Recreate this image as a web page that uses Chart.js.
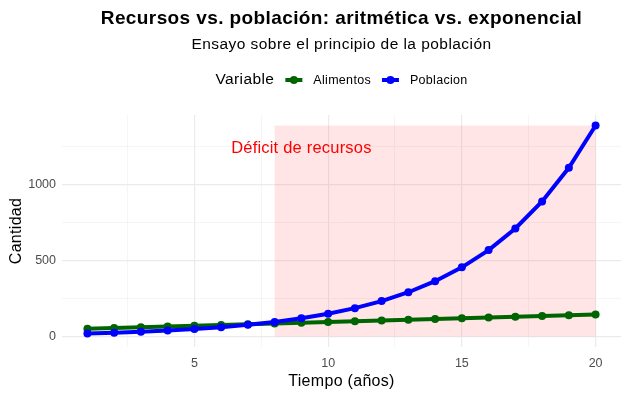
<!DOCTYPE html>
<html>
<head>
<meta charset="utf-8">
<script src="https://cdn.jsdelivr.net/npm/chart.js@4.4.1/dist/chart.umd.min.js"></script>
<style>
  html, body { margin: 0; padding: 0; background: #ffffff; }
  #grafico { display: block; }
</style>
</head>
<body>
<canvas id="grafico" width="629" height="397"></canvas>
<script>
// Datos del gráfico
const anios = [1, 2, 3, 4, 5, 6, 7, 8, 9, 10, 11, 12, 13, 14, 15, 16, 17, 18, 19, 20];
const alimentos = [50, 55, 60, 65, 70, 75, 80, 85, 90, 95, 100, 105, 110, 115, 120, 125, 130, 135, 140, 145];
const poblacion = [20, 25, 31.3, 39.1, 48.8, 61.0, 76.3, 95.4, 119.2, 149.0, 186.3, 232.8, 291.0, 363.8, 454.7, 568.4, 710.5, 888.2, 1110.2, 1387.8];

const xMayores = [5, 10, 15, 20];
const xMenores = [2.5, 7.5, 12.5, 17.5];
const yMayores = [0, 500, 1000];
const yMenores = [250, 750, 1250];

const deficitDesde = 8;
const deficitHasta = 20;
const textoDeficit = 'Déficit de recursos';
const textoX = 9;
const textoY = 1240;

const FUENTE = '"Liberation Sans", Arial, sans-serif';

// Rango con expansión del 5% (como ggplot)
const xMin = Math.min(...anios), xMax = Math.max(...anios);
const yTop = Math.max(...poblacion, ...alimentos);
const xPad = (xMax - xMin) * 0.05, yPad = yTop * 0.05;

// Rectángulo de déficit + textos (título, leyenda, ejes)
const decoraciones = {
  id: 'decoraciones',
  beforeDatasetsDraw(chart) {
    const { ctx, scales: { x, y } } = chart;
    const x0 = x.getPixelForValue(deficitDesde), x1 = x.getPixelForValue(deficitHasta);
    const y0 = y.getPixelForValue(0), y1 = y.getPixelForValue(Math.max(...poblacion));
    ctx.save();
    ctx.fillStyle = 'rgba(255, 0, 0, 0.1)';
    ctx.fillRect(x0, y1, x1 - x0, y0 - y1);
    ctx.restore();
  },
  afterDraw(chart) {
    const { ctx, chartArea, scales: { x, y } } = chart;
    const cx = (chartArea.left + chartArea.right) / 2;
    ctx.save();
    ctx.textBaseline = 'middle';
    ctx.textAlign = 'center';

    // Anotación
    ctx.fillStyle = '#ff0000';
    ctx.font = '16.5px ' + FUENTE;
    ctx.letterSpacing = '0.2px';
    ctx.fillText(textoDeficit, x.getPixelForValue(textoX), y.getPixelForValue(textoY));

    // Título y subtítulo
    ctx.fillStyle = '#000000';
    ctx.font = 'bold 19px ' + FUENTE;
    ctx.letterSpacing = '0.4px';
    ctx.fillText('Recursos vs. población: aritmética vs. exponencial', cx, 19);
    ctx.font = '15.5px ' + FUENTE;
    ctx.letterSpacing = '0.45px';
    ctx.fillText('Ensayo sobre el principio de la población', cx, 45);

    // Títulos de ejes
    ctx.font = '16px ' + FUENTE;
    ctx.letterSpacing = '0.3px';
    ctx.fillText('Tiempo (años)', cx, 382);
    ctx.save();
    ctx.translate(17, (chartArea.top + chartArea.bottom) / 2);
    ctx.rotate(-Math.PI / 2);
    ctx.fillText('Cantidad', 0, 0);
    ctx.restore();

    // Leyenda
    const items = chart.data.datasets.map(d => ({ label: d.label, color: d.borderColor }));
    const fTitulo = '15.5px ' + FUENTE, fItem = '12.5px ' + FUENTE;
    ctx.font = fTitulo;
    ctx.letterSpacing = '0.4px';
    const wTitulo = ctx.measureText('Variable').width;
    ctx.font = fItem;
    ctx.letterSpacing = '0.3px';
    const anchoClave = 17, sepClave = 11, sepItem = 11, sepTitulo = 11;
    let total = wTitulo + sepTitulo;
    items.forEach((it, i) => {
      it.w = ctx.measureText(it.label).width;
      total += anchoClave + sepClave + it.w + (i < items.length - 1 ? sepItem : 0);
    });
    let lx = cx - total / 2;
    const ly = 80;
    ctx.textAlign = 'left';
    ctx.font = fTitulo;
    ctx.letterSpacing = '0.4px';
    ctx.fillStyle = '#000000';
    ctx.fillText('Variable', lx, ly);
    lx += wTitulo + sepTitulo;
    ctx.letterSpacing = '0.3px';
    items.forEach(it => {
      ctx.strokeStyle = it.color;
      ctx.lineWidth = 4;
      ctx.beginPath();
      ctx.moveTo(lx, ly);
      ctx.lineTo(lx + anchoClave, ly);
      ctx.stroke();
      ctx.fillStyle = it.color;
      ctx.beginPath();
      ctx.arc(lx + anchoClave / 2, ly, 4, 0, Math.PI * 2);
      ctx.fill();
      lx += anchoClave + sepClave;
      ctx.fillStyle = '#000000';
      ctx.font = fItem;
      ctx.fillText(it.label, lx, ly + 1);
      lx += it.w + sepItem;
    });
    ctx.restore();
  }
};

const colorMayor = '#ebebeb';
const colorMenor = '#f3f3f3';

new Chart(document.getElementById('grafico'), {
  type: 'line',
  data: {
    datasets: [
      {
        label: 'Alimentos',
        data: anios.map((a, i) => ({ x: a, y: alimentos[i] })),
        borderColor: '#006400',
        backgroundColor: '#006400',
        borderWidth: 4,
        pointRadius: 4,
        pointHoverRadius: 4,
        pointBorderWidth: 0,
        tension: 0,
        order: 2
      },
      {
        label: 'Poblacion',
        data: anios.map((a, i) => ({ x: a, y: poblacion[i] })),
        borderColor: '#0000ff',
        backgroundColor: '#0000ff',
        borderWidth: 4,
        pointRadius: 4,
        pointHoverRadius: 4,
        pointBorderWidth: 0,
        tension: 0,
        order: 1
      }
    ]
  },
  options: {
    responsive: false,
    animation: false,
    devicePixelRatio: 1,
    layout: { padding: { top: 115, right: 8, left: 0, bottom: 0 } },
    plugins: {
      legend: { display: false },
      title: { display: false },
      tooltip: { enabled: false }
    },
    scales: {
      x: {
        type: 'linear',
        min: xMin - xPad,
        max: xMax + xPad,
        afterBuildTicks: s => {
          s.ticks = [...xMenores, ...xMayores].sort((a, b) => a - b).map(v => ({ value: v }));
        },
        afterFit: s => { s.height = 50; },
        ticks: {
          autoSkip: false,
          maxRotation: 0,
          padding: 9,
          color: '#4d4d4d',
          font: { size: 12.5, family: FUENTE },
          callback: v => xMayores.includes(v) ? String(v) : ''
        },
        grid: {
          drawTicks: false,
          color: c => xMayores.includes(c.tick.value) ? colorMayor : colorMenor,
          lineWidth: c => xMayores.includes(c.tick.value) ? 1.2 : 0.8
        },
        border: { display: false }
      },
      y: {
        type: 'linear',
        min: -yPad,
        max: yTop + yPad,
        afterBuildTicks: s => {
          s.ticks = [...yMayores, ...yMenores].sort((a, b) => a - b).map(v => ({ value: v }));
        },
        afterFit: s => { s.width = 62; },
        ticks: {
          autoSkip: false,
          padding: 6,
          color: '#4d4d4d',
          font: { size: 12.5, family: FUENTE },
          callback: v => yMayores.includes(v) ? String(v) : ''
        },
        grid: {
          drawTicks: false,
          color: c => yMayores.includes(c.tick.value) ? colorMayor : colorMenor,
          lineWidth: c => yMayores.includes(c.tick.value) ? 1.2 : 0.8
        },
        border: { display: false }
      }
    }
  },
  plugins: [decoraciones]
});
</script>
</body>
</html>
